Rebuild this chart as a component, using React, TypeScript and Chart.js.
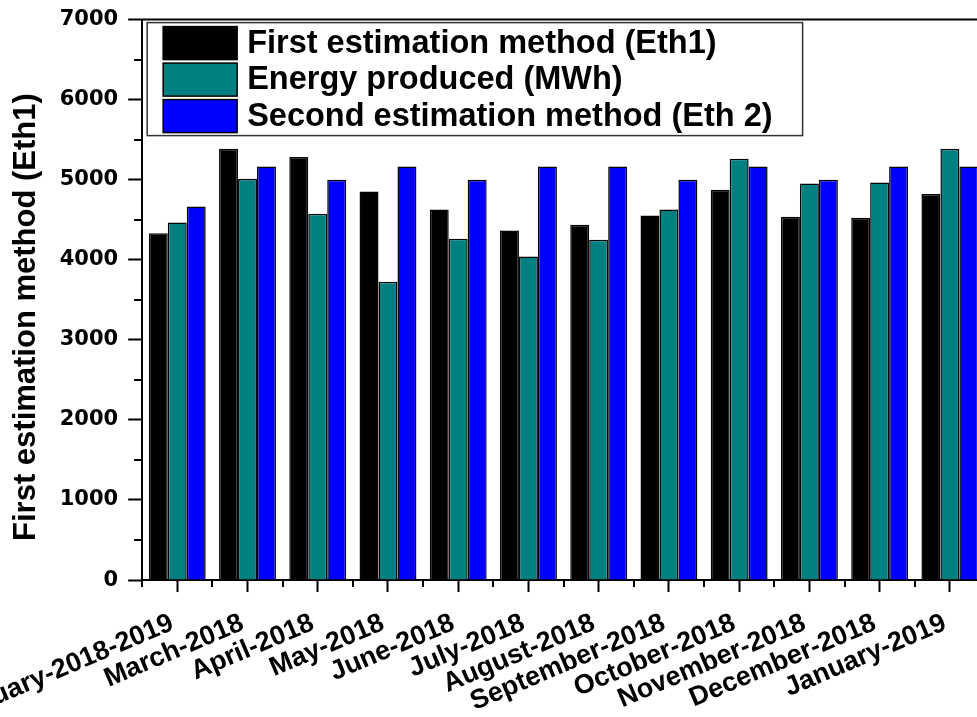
import React, { useEffect, useRef } from 'react';
import { Chart, registerables } from 'chart.js';

Chart.register(...registerables);

// ---- data ----
const categories = [
  'February-2018-2019',
  'March-2018',
  'April-2018',
  'May-2018',
  'June-2018',
  'July-2018',
  'August-2018',
  'September-2018',
  'October-2018',
  'November-2018',
  'December-2018',
  'January-2019',
];
const firstEstimation = [4333, 5387, 5283, 4854, 4629, 4366, 4437, 4554, 4875, 4537, 4525, 4821];
const energyProduced = [4466, 5012, 4575, 3725, 4262, 4041, 4250, 4629, 5262, 4954, 4966, 5387];
const secondEstimation = [4666, 5166, 5000, 5166, 5000, 5166, 5166, 5000, 5166, 5000, 5166, 5166];
const seriesLabels = [
  'First estimation method (Eth1)',
  'Energy produced (MWh)',
  'Second estimation method (Eth 2)',
];
const seriesColors = ['#000000', '#008080', '#0000ff'];
const yTitle = 'First estimation method (Eth1)';
const yMin = 0;
const yMax = 7000;
const yMajorStep = 1000;
const yMinorOffset = 500;

// target plot area in page pixels
const TARGET = { left: 142, top: 20, right: 985.5, bottom: 580 };

const framePlugin = {
  id: 'framePlugin',
  afterDraw(chart: any) {
    const { ctx, chartArea: a, scales } = chart;
    const x = scales.x;
    const y = scales.y;
    ctx.save();
    ctx.strokeStyle = '#000';
    ctx.lineWidth = 2;
    ctx.beginPath();
    ctx.moveTo(a.left - 1, a.top);
    ctx.lineTo(a.right + 1, a.top);
    ctx.stroke();
    // y minor ticks
    ctx.beginPath();
    for (let v = yMin + yMinorOffset; v < yMax; v += yMajorStep) {
      const py = Math.round(y.getPixelForValue(v));
      ctx.moveTo(a.left - 8, py);
      ctx.lineTo(a.left, py);
    }
    ctx.stroke();
    // x minor ticks at category boundaries
    const half = (x.getPixelForValue(1) - x.getPixelForValue(0)) / 2;
    ctx.beginPath();
    for (let i = 0; i <= categories.length; i++) {
      const px = Math.round(x.getPixelForValue(i) - half);
      ctx.moveTo(px, a.bottom);
      ctx.lineTo(px, a.bottom + 7);
    }
    ctx.stroke();
    ctx.restore();
  },
};

const legendPlugin = {
  id: 'boxLegend',
  afterDraw(chart: any) {
    const { ctx, chartArea: a } = chart;
    const ds = chart.data.datasets;
    ctx.save();
    ctx.font = 'bold 32.5px "Liberation Sans", Arial, sans-serif';
    const maxW = Math.max(...ds.map((d: any) => ctx.measureText(d.label).width));
    const bx = a.left + 5;
    const by = a.top + 3;
    const textX = bx + 100;
    const bw = textX - bx + maxW + 30;
    const rowH = 36.5;
    const bh = 113;
    ctx.fillStyle = '#fff';
    ctx.fillRect(bx, by, bw, bh);
    ctx.strokeStyle = '#333';
    ctx.lineWidth = 1.5;
    ctx.strokeRect(bx, by, bw, bh);
    ds.forEach((d: any, i: number) => {
      const ry = by + 4 + i * rowH;
      ctx.fillStyle = d.backgroundColor;
      ctx.fillRect(bx + 16, ry, 74, 33);
      ctx.strokeStyle = '#000';
      ctx.lineWidth = 1.5;
      ctx.strokeRect(bx + 16, ry, 74, 33);
      ctx.fillStyle = '#000';
      ctx.textBaseline = 'middle';
      ctx.textAlign = 'left';
      ctx.fillText(d.label, textX, ry + 17);
    });
    ctx.restore();
  },
};

function buildConfig(): any {
  const dataSets = [firstEstimation, energyProduced, secondEstimation];
  return {
    type: 'bar',
    data: {
      labels: categories,
      datasets: dataSets.map((vals, i) => ({
        label: seriesLabels[i],
        data: vals,
        backgroundColor: seriesColors[i],
        borderColor: '#050505',
        borderWidth: 1.5,
        categoryPercentage: 0.81,
        barPercentage: 1.0,
      })),
    },
    options: {
      animation: false,
      responsive: false,
      maintainAspectRatio: false,
      devicePixelRatio: 1,
      layout: { padding: 0 },
      plugins: {
        legend: { display: false },
        tooltip: { enabled: false },
        title: { display: false },
      },
      scales: {
        x: {
          type: 'category',
          offset: true,
          grid: {
            display: true,
            drawOnChartArea: false,
            offset: false,
            tickLength: 12,
            tickWidth: 2,
            tickColor: '#000',
          },
          border: { display: true, width: 2, color: '#000' },
          ticks: {
            autoSkip: false,
            minRotation: 23,
            maxRotation: 23,
            padding: 15,
            labelOffset: -5,
            color: '#000',
            font: { family: '"Liberation Sans", Arial, sans-serif', size: 27, weight: 'bold' },
          },
        },
        y: {
          min: yMin,
          max: yMax,
          grid: {
            display: true,
            drawOnChartArea: false,
            tickLength: 14,
            tickWidth: 2,
            tickColor: '#000',
          },
          border: { display: true, width: 2, color: '#000' },
          ticks: {
            stepSize: yMajorStep,
            padding: 10,
            color: '#000',
            callback: (v: any) => String(v),
            font: { family: '"DejaVu Sans", sans-serif', size: 21, weight: 'bold' },
          },
          title: {
            display: true,
            text: yTitle + '    ',
            color: '#000',
            padding: { top: 4, bottom: 5 },
            font: { family: '"Liberation Sans", Arial, sans-serif', size: 31, weight: 'bold' },
          },
        },
      },
    },
    plugins: [framePlugin, legendPlugin],
  };
}

export default function App() {
  const canvasRef = useRef<HTMLCanvasElement | null>(null);

  useEffect(() => {
    const canvas = canvasRef.current!;
    let W = 1080;
    let H = 740;
    let chart: any = null;
    for (let i = 0; i < 6; i++) {
      canvas.width = W;
      canvas.height = H;
      canvas.style.width = W + 'px';
      canvas.style.height = H + 'px';
      chart = new Chart(canvas, buildConfig());
      const a = chart.chartArea;
      const dw = TARGET.right - TARGET.left - (a.right - a.left);
      const dh = TARGET.bottom - TARGET.top - (a.bottom - a.top);
      if ((Math.abs(dw) < 1 && Math.abs(dh) < 1) || i === 5) break;
      chart.destroy();
      W = Math.round(W + dw);
      H = Math.round(H + dh);
    }
    const a = chart.chartArea;
    canvas.style.position = 'absolute';
    canvas.style.left = TARGET.left - a.left + 'px';
    canvas.style.top = TARGET.top - a.top + 'px';
    return () => {
      chart.destroy();
    };
  }, []);

  return (
    <div
      style={{
        position: 'fixed',
        left: 0,
        top: 0,
        width: '977px',
        height: '717px',
        overflow: 'hidden',
        background: '#fff',
      }}
    >
      <canvas ref={canvasRef} style={{ position: 'absolute' }} />
    </div>
  );
}
